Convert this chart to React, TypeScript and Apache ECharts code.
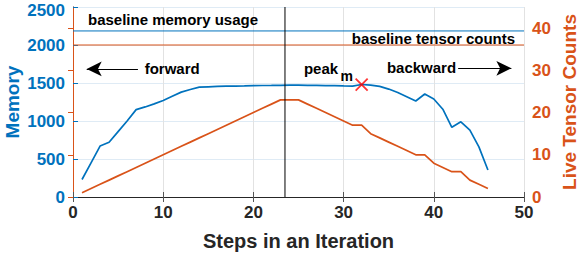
import React, { useEffect, useRef } from "react";
import * as echarts from "echarts";

const steps = [1, 2, 3, 4, 5, 6, 7, 8, 9, 10, 11, 12, 13, 14, 15, 16, 17, 18, 19, 20, 21, 22, 23, 24, 25, 26, 27, 28, 29, 30, 31, 32, 33, 34, 35, 36, 37, 38, 39, 40, 41, 42, 43, 44, 45, 46];
const memory = [230, 450, 670, 720, 860, 1000, 1150, 1185, 1225, 1270, 1325, 1380, 1415, 1445, 1450, 1455, 1458, 1460, 1462, 1465, 1467, 1468, 1470, 1472, 1472, 1470, 1468, 1466, 1465, 1462, 1460, 1480, 1472, 1455, 1420, 1375, 1320, 1263, 1355, 1290, 1155, 917, 990, 880, 660, 355];
const tensorCounts = [1, 2, 3, 4, 5, 6, 7, 8, 9, 10, 11, 12, 13, 14, 15, 16, 17, 18, 19, 20, 21, 22, 23, 23, 23, 22, 21, 20, 19, 18, 17, 17, 15, 14, 13, 12, 11, 10, 10, 8, 7, 6, 6, 4, 3, 2];
const xTicks = [0, 10, 20, 30, 40, 50];
const memoryTicks = [0, 500, 1000, 1500, 2000, 2500];
const tensorTicks = [0, 10, 20, 30, 40];
const xRange = [0, 50];
const memoryRange = [0, 2500];
const tensorRange = [0, 45];
const baselineMemory = 2185;
const baselineTensorCount = 36;
const peakStep = 32;
const peakMemory = 1480;
const phaseBoundary = 23.5;

const BLUE = "#0072BD";
const ORANGE = "#D95319";
const DARK = "#262626";
const FONT = "'Liberation Sans', Arial, Helvetica, sans-serif";

export default function App() {
  const ref = useRef<HTMLDivElement>(null);
  useEffect(() => {
    document.body.style.margin = "0";
    const chart = echarts.init(ref.current!, null, { renderer: "svg" });
    const plain = (v: number) => String(v);
    const textLabel = (text: string, size = 15) => ({
      show: true,
      position: "right",
      distance: 0,
      formatter: text,
      color: "#000",
      fontFamily: FONT,
      fontWeight: "bold",
      fontSize: size,
    });
    const note = (text: string, x: number, y: number, size = 15) => ({
      coord: [x, y],
      symbol: "circle",
      symbolSize: 0,
      label: textLabel(text, size),
    });
    const straight = (name: string, yAxisIndex: number, color: string, data: number[][], z = 4) => ({
      name,
      type: "line",
      xAxisIndex: 0,
      yAxisIndex,
      data,
      showSymbol: false,
      silent: true,
      lineStyle: { color, width: 1, type: "solid" },
      itemStyle: { color },
      emphasis: { disabled: true },
      z,
    });
    const labelFont = { fontFamily: FONT, fontWeight: "bold", fontSize: 17 };
    chart.setOption({
      animation: false,
      grid: { left: 73, right: 57, top: 7, bottom: 58, outerBoundsMode: "none", containLabel: false },
      xAxis: [
        {
          type: "value",
          min: xRange[0],
          max: xRange[1],
          interval: 10,
          position: "bottom",
          name: "Steps in an Iteration",
          nameLocation: "middle",
          nameGap: 34,
          nameMoveOverlap: false,
          nameTextStyle: { color: DARK, fontFamily: FONT, fontWeight: "bold", fontSize: 20, lineHeight: 20 },
          axisLine: { show: true, lineStyle: { color: "#555", width: 1 } },
          axisTick: { show: true, inside: true, length: 5, lineStyle: { color: "#555" } },
          axisLabel: {
            customValues: xTicks,
            formatter: plain,
            color: DARK,
            ...labelFont,
            margin: 7,
          },
          splitLine: { show: true, lineStyle: { color: "#e2e2e2", width: 1 } },
        },
        {
          type: "value",
          min: xRange[0],
          max: xRange[1],
          interval: 10,
          position: "top",
          axisLine: { show: true, lineStyle: { color: DARK, width: 1 } },
          axisTick: { show: true, inside: true, length: 5, lineStyle: { color: "#555" } },
          axisLabel: { show: false },
          splitLine: { show: false },
        },
      ],
      yAxis: [
        {
          type: "value",
          min: memoryRange[0],
          max: memoryRange[1],
          interval: 500,
          position: "left",
          name: "Memory",
          nameLocation: "middle",
          nameGap: 51,
          nameMoveOverlap: false,
          nameTextStyle: { color: BLUE, fontFamily: FONT, fontWeight: "bold", fontSize: 19, lineHeight: 19 },
          axisLine: { show: true, lineStyle: { color: BLUE, width: 1 } },
          axisTick: { show: true, inside: true, length: 5, lineStyle: { color: BLUE } },
          axisLabel: {
            customValues: memoryTicks,
            formatter: (v: number) => (v === memoryRange[1] ? `{top|${v}}` : String(v)),
            color: BLUE,
            ...labelFont,
            margin: 8,
            rich: {
              top: { color: BLUE, ...labelFont, padding: [6, 0, 0, 0] },
            },
          },
          splitLine: { show: true, lineStyle: { color: "#dfebf5", width: 1 } },
        },
        {
          type: "value",
          min: tensorRange[0],
          max: tensorRange[1],
          interval: 5,
          position: "right",
          name: "Live Tensor Counts",
          nameLocation: "middle",
          nameGap: 36,
          nameMoveOverlap: false,
          nameTextStyle: { color: ORANGE, fontFamily: FONT, fontWeight: "bold", fontSize: 19, lineHeight: 19 },
          axisLine: { show: true, lineStyle: { color: ORANGE, width: 1 } },
          axisTick: { show: true, inside: true, length: 5, customValues: tensorTicks, lineStyle: { color: ORANGE } },
          axisLabel: {
            customValues: tensorTicks,
            formatter: plain,
            color: ORANGE,
            ...labelFont,
            margin: 8,
          },
          splitLine: { show: false },
        },
      ],
      series: [
        straight("Baseline memory", 0, BLUE, [[xRange[0], baselineMemory], [xRange[1], baselineMemory]]),
        straight("Baseline tensors", 1, ORANGE, [[xRange[0], baselineTensorCount], [xRange[1], baselineTensorCount]]),
        straight("Phase boundary", 0, "#000", [[phaseBoundary, memoryRange[0]], [phaseBoundary, memoryRange[1]]]),
        {
          name: "Arrows",
          type: "line",
          xAxisIndex: 0,
          yAxisIndex: 0,
          data: [],
          silent: true,
          z: 4,
          markLine: {
            silent: true,
            symbol: ["none", "none"],
            label: { show: false },
            lineStyle: { color: "#000", width: 1, type: "solid" },
            itemStyle: { color: "#000" },
            emphasis: { disabled: true },
            data: [
              [
                { coord: [7.2, 1685], symbol: "none" },
                { coord: [1.52, 1685], symbol: "arrow", symbolSize: [11, 15] },
              ],
              [
                { coord: [42.7, 1693], symbol: "none" },
                { coord: [48.6, 1693], symbol: "arrow", symbolSize: [11, 15] },
              ],
            ],
          },
        },
        {
          name: "Memory",
          type: "line",
          xAxisIndex: 0,
          yAxisIndex: 0,
          data: steps.map((s, i) => [s, memory[i]]),
          showSymbol: false,
          lineStyle: { color: BLUE, width: 1.7 },
          itemStyle: { color: BLUE },
          z: 3,
          markPoint: {
            silent: true,
            itemStyle: { color: "#000" },
            data: [
              note("baseline memory usage", 1.66, 2329),
              note("baseline tensor counts", 30.9, 2092),
              note("forward", 7.95, 1690),
              note("backward", 34.8, 1700),
              note("peak", 25.6, 1697),
              note("m", 29.65, 1590, 14),
            ],
          },
        },
        {
          name: "Live Tensor Counts",
          type: "line",
          xAxisIndex: 0,
          yAxisIndex: 1,
          data: steps.map((s, i) => [s, tensorCounts[i]]),
          showSymbol: false,
          lineStyle: { color: ORANGE, width: 1.7 },
          itemStyle: { color: ORANGE },
          z: 2,
        },
        {
          name: "Peak",
          type: "scatter",
          xAxisIndex: 0,
          yAxisIndex: 0,
          data: [[peakStep, peakMemory]],
          symbol: "path://M0,0L10,10M10,0L0,10",
          symbolSize: 12,
          itemStyle: { color: "none", borderColor: "#FF0000", borderWidth: 1.8 },
          z: 5,
        },
      ],
    });
    return () => chart.dispose();
  }, []);
  return (
    <div
      ref={ref}
      style={{ width: 581, height: 255, position: "absolute", left: 0, top: 0, background: "#fff" }}
    />
  );
}
